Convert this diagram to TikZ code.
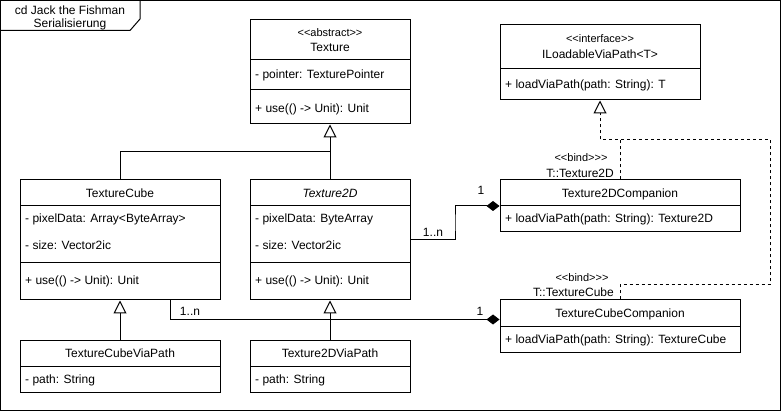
\documentclass[tikz,border=0pt]{standalone}
\usepackage{fontspec}
\setmainfont{Liberation Sans}
\usetikzlibrary{arrows.meta,calc}
\begin{document}
\begin{tikzpicture}[x=1pt,y=-1pt,
  ln/.style={line width=1pt},
  box/.style={draw, line width=1pt, inner sep=0pt, fill=white},
  txt/.style={font=\fontsize{12}{14}\selectfont, inner sep=0pt, text height=8.6pt, text depth=0pt},
  lt/.style={txt, anchor=west},
  st/.style={font=\fontsize{11}{13}\selectfont, inner sep=0pt, text height=7.9pt, text depth=0pt},
  gen/.style={line width=1pt, -{Triangle[open, length=13pt, width=13pt, line width=1pt]}},
  real/.style={line width=1pt, dash pattern=on 3pt off 3pt, -{Triangle[open, length=13pt, width=13pt, line width=1pt, sep=0pt]}},
  dsh/.style={line width=1pt, dash pattern=on 3pt off 3pt},
  comp/.style={line width=1pt, -{Diamond[length=13pt, width=10pt]}}
]
\useasboundingbox (0,0) rectangle (781,411);
\draw[ln] (0.5,0.5) rectangle (780.5,410.5);
% title tab
\draw[ln] (140,0.5) -- (140,19) -- (130,30.5) -- (0.5,30.5);
\node[txt] (title1) at (70,10) {cd Jack the Fishman};
\node[txt] (title2) at (70,23.5) {Serialisierung};

% Texture
\node[box, minimum width=160pt, minimum height=104pt] (tex) at (330,72) {};
\draw[ln] (250,60) -- (410,60);
\draw[ln] (250,90) -- (410,90);
\node[st] (texst) at (330,33) {<{}<abstract>{}>};
\node[txt] (texn) at (330,47.5) {Texture};
\node[lt] (texa) at (255,74) {- pointer: TexturePointer};
\node[lt] (texm) at (255,108) {+ use(() -> Unit): Unit};

% ILoadableViaPath
\node[box, minimum width=200pt, minimum height=75pt] (iload) at (600,62.5) {};
\draw[ln] (500,69) -- (700,69);
\node[st] (ilst) at (600,39) {<{}<interface>{}>};
\node[txt] (iln) at (600,54) {ILoadableViaPath<T>};
\node[lt] (ilm) at (505,84) {+ loadViaPath(path: String): T};

% TextureCube
\node[box, minimum width=200pt, minimum height=120pt] (cube) at (120,240) {};
\draw[ln] (20,206) -- (220,206);
\draw[ln] (20,263) -- (220,263);
\node[txt] (cuben) at (120,193) {TextureCube};
\node[lt] (cubea1) at (25,218) {- pixelData: Array<ByteArray>};
\node[lt] (cubea2) at (25,245) {- size: Vector2ic};
\node[lt] (cubem) at (25,280) {+ use(() -> Unit): Unit};

% Texture2D
\node[box, minimum width=160pt, minimum height=120pt] (t2d) at (330,240) {};
\draw[ln] (250,206) -- (410,206);
\draw[ln] (250,263) -- (410,263);
\node[txt, font=\fontsize{12}{14}\selectfont\itshape] (t2dn) at (330,193) {Texture2D};
\node[lt] (t2da1) at (255,218) {- pixelData: ByteArray};
\node[lt] (t2da2) at (255,245) {- size: Vector2ic};
\node[lt] (t2dm) at (255,280) {+ use(() -> Unit): Unit};

% Texture2DCompanion
\node[box, minimum width=240pt, minimum height=52pt] (t2dc) at (620,206) {};
\draw[ln] (500,206) -- (740,206);
\node[txt] (t2dcn) at (620,193) {Texture2DCompanion};
\node[lt] (t2dcm) at (505,218) {+ loadViaPath(path: String): Texture2D};

% TextureCubeCompanion
\node[box, minimum width=240pt, minimum height=52pt] (cubec) at (620,326) {};
\draw[ln] (500,326) -- (740,326);
\node[txt] (cubecn) at (620,313.5) {TextureCubeCompanion};
\node[lt] (cubecm) at (505,339) {+ loadViaPath(path: String): TextureCube};

% TextureCubeViaPath
\node[box, minimum width=200pt, minimum height=52pt] (cubevp) at (120,366) {};
\draw[ln] (20,366) -- (220,366);
\node[txt] (cubevpn) at (120,353) {TextureCubeViaPath};
\node[lt] (cubevpa) at (25,379) {- path: String};

% Texture2DViaPath
\node[box, minimum width=160pt, minimum height=52pt] (t2dvp) at (330,366) {};
\draw[ln] (250,366) -- (410,366);
\node[txt] (t2dvpn) at (330,353) {Texture2DViaPath};
\node[lt] (t2dvpa) at (255,379) {- path: String};

% generalizations
\coordinate (j) at (330,152);
\draw[ln] (cube.north) |- (j);
\draw[gen] (t2d.north) -- (tex.south);
\draw[gen] (cubevp.north) -- (cube.south);
\draw[gen] (t2dvp.north) -- (t2d.south);

% realizations
\coordinate (r1) at (600,140);
\coordinate (r2) at (770,140);
\coordinate (r3) at (770,285);
\draw[real] (t2dc.north) |- (r1) -- (iload.south);
\draw[dsh] (cubec.north) |- (r3) -- (r2) -- (r1);
\node[st] (bind1) at (581,158) {<{}<bind>{}>{}>};
\node[txt, anchor=east] (bind1t) at (614,173) {T::Texture2D};
\node[st] (bind2) at (582,278) {<{}<bind>{}>{}>};
\node[txt, anchor=east] (bind2t) at (614,292.5) {T::TextureCube};

% compositions
\coordinate (c1) at (455,223);
\draw[comp] (t2d.east) -| (c1) |- (t2dc.west);
\node[txt] (m1) at (433,232) {1..n};
\node[txt] (m2) at (481,190) {1};
\draw[comp] ($(cube.south)+(50,0)$) |- ($(cubec.north west)+(0,20)$);
\node[txt] (m3) at (190,311) {1..n};
\node[txt] (m4) at (480,311) {1};
\end{tikzpicture}
\end{document}
